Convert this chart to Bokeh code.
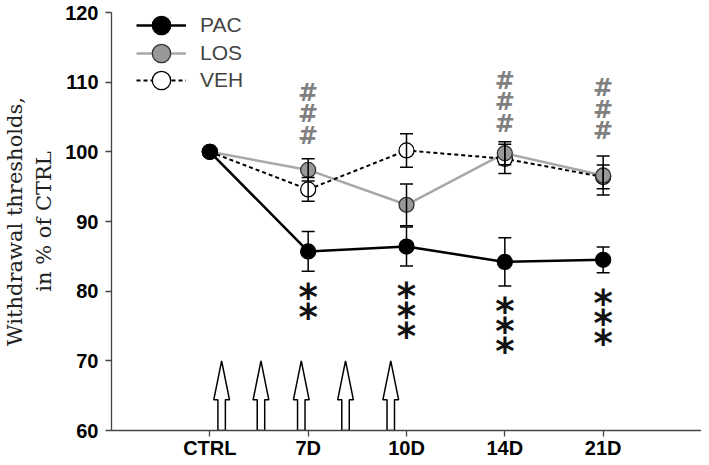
from bokeh.plotting import figure
from bokeh.models import (ColumnDataSource, Whisker, TeeHead, Legend, LegendItem,
                          FixedTicker)
from bokeh.core.properties import value
from bokeh.embed import file_html
from bokeh.resources import INLINE

# ---------------- data ----------------
days = [1, 2, 3, 4, 5]
day_labels = ["CTRL", "7D", "10D", "14D", "21D"]

pac = [100, 85.7, 86.4, 84.2, 84.5]
pac_err = [0, 2.85, 2.8, 3.45, 1.85]
los = [100, 97.4, 92.4, 99.8, 96.6]
los_err = [0, 1.6, 3.0, 1.65, 2.8]
veh = [100, 94.6, 100.2, 99.0, 96.4]
veh_err = [0, 1.7, 2.4, 2.1, 1.7]

y_ticks = [60, 70, 80, 90, 100, 110, 120]

injection_days = [1.12, 1.52, 1.93, 2.38, 2.84]
arrow_base, arrow_neck, arrow_tip = 60, 64.4, 70

hash_days = [2, 4, 5]
hash_top = [108.5, 110.2, 109.1]
hash_n = [3, 3, 3]

star_days = [2, 3, 4, 5]
star_top = [80.3, 80.4, 78.2, 79.4]
star_n = [2, 3, 3, 3]

# ---------------- figure ----------------
p = figure(width=701, height=461, x_range=(0, 6), y_range=(60, 120),
           output_backend="svg", toolbar_location=None,
           min_border_left=106, min_border_right=0, min_border_top=12,
           min_border_bottom=28)
p.grid.visible = False
p.outline_line_color = None
p.background_fill_color = "white"

axis_col = "#444444"
for ax in (p.xaxis[0], p.yaxis[0]):
    ax.axis_line_color = axis_col
    ax.axis_line_width = 1.3
    ax.major_tick_line_color = axis_col
    ax.major_tick_line_width = 1.3
    ax.major_tick_out = 6
    ax.major_tick_in = 0
    ax.minor_tick_line_color = None
    ax.major_label_text_font = "Liberation Sans"
    ax.major_label_text_font_style = "bold"
    ax.major_label_text_font_size = "20px"
    ax.major_label_text_color = "black"

p.xaxis.ticker = FixedTicker(ticks=days)
p.xaxis.major_label_overrides = {d: lab for d, lab in zip(days, day_labels)}
p.xaxis.major_label_standoff = 0
p.yaxis.ticker = FixedTicker(ticks=y_ticks)
p.yaxis.major_label_standoff = 7

p.yaxis.axis_label = "Withdrawal thresholds,\nin % of CTRL"
p.yaxis.axis_label_text_font = "DejaVu Serif"
p.yaxis.axis_label_text_font_style = "normal"
p.yaxis.axis_label_text_font_size = "21px"
p.yaxis.axis_label_text_color = "#222222"
p.yaxis.axis_label_standoff = 6

# ---------------- arrows (injections) ----------------
shaft_hw = 0.038
head_hw = 0.08
axs, ays = [], []
for d in injection_days:
    axs.append([d - shaft_hw, d + shaft_hw, d + shaft_hw, d + head_hw, d,
                d - head_hw, d - shaft_hw])
    ays.append([arrow_base, arrow_base, arrow_neck, arrow_neck, arrow_tip,
                arrow_neck, arrow_neck])
p.patches(axs, ays, fill_color="white", line_color="black", line_width=1.5)

# ---------------- lines ----------------
src = ColumnDataSource(dict(x=days, pac=pac, los=los, veh=veh))
los_line = p.line("x", "los", source=src, line_color="#a8a8a8", line_width=2.5)
veh_line = p.line("x", "veh", source=src, line_color="black", line_width=2,
                  line_dash="4 3")
pac_line = p.line("x", "pac", source=src, line_color="black", line_width=2.5)

# ---------------- error bars ----------------
def whisker(vals, errs):
    s = ColumnDataSource(dict(
        x=days[1:],
        lo=[v - e for v, e in zip(vals[1:], errs[1:])],
        hi=[v + e for v, e in zip(vals[1:], errs[1:])],
    ))
    w = Whisker(source=s, base="x", lower="lo", upper="hi",
                line_color="black", line_width=1.5,
                upper_head=TeeHead(size=13, line_width=1.5, line_color="black"),
                lower_head=TeeHead(size=13, line_width=1.5, line_color="black"))
    w.level = "glyph"
    p.add_layout(w)

whisker(veh, veh_err)
whisker(los, los_err)
whisker(pac, pac_err)

# ---------------- markers ----------------
veh_pts = p.scatter("x", "veh", source=src, size=15, fill_color="white",
                    line_color="black", line_width=1.3)
los_pts = p.scatter("x", "los", source=src, size=15, fill_color="#999999",
                    line_color="#333333", line_width=1.3)
pac_pts = p.scatter("x", "pac", source=src, size=15, fill_color="black",
                    line_color="black", line_width=1.3)

# ---------------- significance marks ----------------
hx, hy, hoff, ht = [], [], [], []
for d, t, n in zip(hash_days, hash_top, hash_n):
    for i in range(n):
        hx.append(d); hy.append(t); hoff.append(i * 21.5); ht.append("#")
p.text(x=hx, y=hy, text=ht, y_offset=hoff, text_align="center",
       text_baseline="middle", text_font=value("DejaVu Sans"),
       text_font_style="bold", text_font_size="24px", text_color="#808080")

sx, sy, soff, st = [], [], [], []
for d, t, n in zip(star_days, star_top, star_n):
    for i in range(n):
        sx.append(d); sy.append(t); soff.append(i * 20 + 8); st.append("*")
p.text(x=sx, y=sy, text=st, y_offset=soff, text_align="center",
       text_baseline="middle", text_font=value("DejaVu Sans"),
       text_font_style="bold", text_font_size="37px", text_color="#111111")

# ---------------- legend (one box per row) ----------------
legend_rows = [("PAC", [pac_line, pac_pts], 382),
               ("LOS", [los_line, los_pts], 354),
               ("VEH", [veh_line, veh_pts], 327)]
for lab, rends, vy in legend_rows:
    lg = Legend(items=[LegendItem(label=lab, renderers=rends)],
                location=(25, vy), glyph_width=50, glyph_height=46,
                padding=0, margin=0, label_standoff=14,
                label_text_font="Liberation Sans", label_text_font_size="21px",
                background_fill_alpha=0, border_line_alpha=0)
    p.add_layout(lg, "center")

open("out.html", "w").write(file_html(p, INLINE))
